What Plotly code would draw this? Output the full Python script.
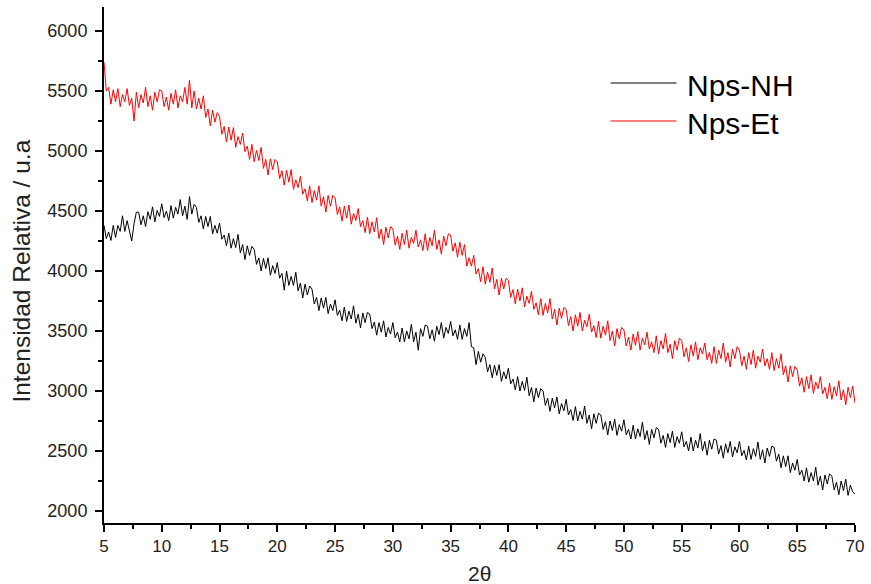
import plotly.graph_objects as go

# 2-theta grid, 0.2 degree steps from 5 to 70
two_theta = [round(5 + 0.2 * i, 1) for i in range(326)]

nps_et = [
    5740, 5500, 5530, 5390, 5510,
    5410, 5520, 5370, 5470, 5410,
    5520, 5380, 5440, 5250, 5490,
    5360, 5470, 5400, 5530, 5370,
    5460, 5340, 5490, 5410, 5510,
    5500, 5370, 5450, 5340, 5480,
    5390, 5510, 5360, 5460, 5410,
    5530, 5390, 5590, 5360, 5500,
    5350, 5440, 5350, 5460, 5280,
    5350, 5210, 5340, 5240, 5320,
    5290, 5140, 5205, 5075, 5200,
    5090, 5195, 5030, 5120, 5055,
    5150, 4995, 5040, 4930, 5055,
    4910, 5005, 4920, 5030, 4855,
    4930, 4800, 4935, 4845, 4930,
    4910, 4770, 4835, 4715, 4840,
    4740, 4845, 4680, 4760, 4695,
    4790, 4640, 4685, 4585, 4710,
    4570, 4670, 4590, 4710, 4540,
    4620, 4490, 4630, 4540, 4630,
    4610, 4470, 4535, 4415, 4540,
    4440, 4550, 4390, 4480, 4420,
    4520, 4370, 4420, 4320, 4450,
    4310, 4410, 4325, 4445, 4270,
    4350, 4220, 4365, 4275, 4370,
    4350, 4215, 4290, 4180, 4315,
    4220, 4340, 4190, 4280, 4230,
    4340, 4200, 4260, 4170, 4310,
    4170, 4280, 4210, 4340, 4180,
    4260, 4140, 4290, 4210, 4310,
    4300, 4165, 4235, 4115, 4240,
    4130, 4220, 4040, 4110, 4040,
    4130, 3975, 4020, 3910, 4035,
    3890, 3990, 3905, 4025, 3850,
    3930, 3800, 3940, 3850, 3940,
    3920, 3780, 3845, 3725, 3850,
    3750, 3860, 3700, 3790, 3730,
    3830, 3680, 3735, 3635, 3770,
    3630, 3730, 3650, 3770, 3600,
    3680, 3550, 3690, 3605, 3695,
    3680, 3545, 3620, 3500, 3635,
    3540, 3655, 3500, 3590, 3535,
    3640, 3490, 3545, 3445, 3580,
    3440, 3540, 3465, 3585, 3420,
    3500, 3375, 3520, 3435, 3530,
    3510, 3375, 3450, 3340, 3475,
    3380, 3495, 3340, 3440, 3385,
    3490, 3350, 3410, 3320, 3460,
    3310, 3420, 3350, 3480, 3320,
    3390, 3270, 3420, 3340, 3440,
    3420, 3285, 3360, 3245, 3385,
    3290, 3410, 3260, 3360, 3310,
    3400, 3260, 3320, 3230, 3370,
    3230, 3340, 3270, 3400, 3240,
    3320, 3200, 3350, 3270, 3370,
    3340, 3210, 3290, 3180, 3320,
    3220, 3340, 3190, 3290, 3240,
    3350, 3210, 3270, 3180, 3320,
    3170, 3270, 3190, 3310, 3135,
    3210, 3075, 3210, 3120, 3205,
    3180, 3040, 3110, 2990, 3120,
    3020, 3135, 2980, 3075, 3020,
    3120, 2975, 3030, 2935, 3065,
    2930, 3035, 2960, 3085, 2925,
    3010, 2885, 3030, 2945, 3040,
    2900,
]

nps_nh = [
    4380, 4270, 4325, 4255, 4380,
    4280, 4380, 4330, 4460, 4330,
    4420, 4320, 4250, 4395, 4490,
    4490, 4385, 4460, 4370, 4495,
    4430, 4535, 4410, 4505, 4455,
    4560, 4445, 4500, 4420, 4545,
    4440, 4530, 4475, 4595, 4460,
    4540, 4430, 4620, 4475, 4555,
    4530, 4405, 4460, 4350, 4455,
    4370, 4455, 4310, 4380, 4315,
    4400, 4265, 4300, 4210, 4315,
    4190, 4270, 4195, 4305, 4150,
    4220, 4095, 4210, 4130, 4205,
    4180, 4055, 4110, 4000, 4105,
    4020, 4110, 3965, 4045, 3980,
    4070, 3940, 3980, 3840, 4000,
    3880, 3955, 3880, 3990, 3835,
    3900, 3775, 3890, 3800, 3875,
    3850, 3725, 3780, 3670, 3775,
    3690, 3780, 3645, 3725, 3670,
    3760, 3630, 3675, 3585, 3700,
    3580, 3665, 3600, 3710, 3565,
    3640, 3525, 3650, 3570, 3655,
    3640, 3520, 3575, 3465, 3570,
    3490, 3585, 3450, 3530, 3475,
    3570, 3445, 3490, 3410, 3525,
    3410, 3500, 3435, 3555, 3410,
    3490, 3340, 3520, 3455, 3550,
    3540, 3435, 3510, 3415, 3540,
    3470, 3570, 3440, 3530, 3480,
    3580, 3460, 3510, 3430, 3550,
    3430, 3520, 3455, 3570, 3370,
    3360, 3220, 3330, 3240, 3310,
    3280, 3160, 3220, 3110, 3215,
    3130, 3220, 3080, 3160, 3100,
    3190, 3060, 3100, 3010, 3120,
    3000, 3080, 3005, 3115, 2960,
    3030, 2910, 3025, 2945, 3020,
    3000, 2880, 2940, 2830, 2940,
    2860, 2950, 2810, 2895, 2835,
    2930, 2800, 2845, 2755, 2870,
    2750, 2830, 2765, 2875, 2730,
    2800, 2685, 2810, 2730, 2815,
    2800, 2680, 2745, 2635, 2750,
    2670, 2765, 2630, 2720, 2665,
    2760, 2635, 2680, 2600, 2715,
    2600, 2685, 2620, 2740, 2595,
    2670, 2555, 2680, 2610, 2695,
    2680, 2565, 2630, 2530, 2645,
    2570, 2665, 2530, 2620, 2565,
    2660, 2535, 2580, 2500, 2615,
    2500, 2590, 2525, 2645, 2500,
    2580, 2465, 2590, 2515, 2600,
    2590, 2475, 2545, 2440, 2560,
    2485, 2580, 2450, 2535, 2485,
    2580, 2460, 2505, 2425, 2540,
    2430, 2520, 2455, 2575, 2430,
    2510, 2400, 2525, 2455, 2540,
    2530, 2415, 2475, 2360, 2460,
    2370, 2460, 2320, 2400, 2340,
    2430, 2300, 2340, 2250, 2360,
    2240, 2320, 2250, 2365, 2215,
    2290, 2175, 2300, 2225, 2310,
    2290, 2175, 2240, 2135, 2250,
    2170, 2265, 2130, 2215, 2160,
    2140,
]

series_names = ["Nps-NH", "Nps-Et"]
series_colors = ["#000000", "#ff0000"]
x_tick_vals = list(range(5, 71, 5))
y_tick_vals = list(range(2000, 6001, 500))

fig = go.Figure()
for name, ys, col in zip(series_names, [nps_nh, nps_et], series_colors):
    fig.add_trace(go.Scatter(x=two_theta, y=ys, mode="lines", name=name,
                             line=dict(color=col, width=1), showlegend=False))

axis_font = "Liberation Sans, Arial, sans-serif"
fig.update_layout(
    width=871, height=584,
    margin=dict(l=104, r=14, t=7, b=61),
    paper_bgcolor="white", plot_bgcolor="white",
    font=dict(family=axis_font, color="#222222"),
    xaxis=dict(range=[5, 70], tickvals=x_tick_vals, showline=True, linecolor="black",
               linewidth=2, ticks="outside", ticklen=7, tickwidth=1.5, tickcolor="black",
               showgrid=False, zeroline=False,
               tickfont=dict(size=17, family="Liberation Sans Narrow, Liberation Sans, Arial"),
               minor=dict(dtick=2.5, ticks="outside", ticklen=4, tickwidth=1.5, tickcolor="black")),
    yaxis=dict(range=[1900, 6200], tickvals=y_tick_vals, showline=True, linecolor="black",
               linewidth=2, ticks="outside", ticklen=7, tickwidth=1.5, tickcolor="black",
               showgrid=False, zeroline=False, ticklabelstandoff=4,
               tickfont=dict(size=18),
               minor=dict(dtick=250, ticks="outside", ticklen=4, tickwidth=1.5, tickcolor="black")),
)

# axis titles
fig.add_annotation(text="Intensidad Relativa / u.a", xref="paper", yref="paper",
                   x=-0.110, y=0.488, textangle=-90, showarrow=False,
                   font=dict(size=24.5, color="#222222"), xanchor="center", yanchor="middle")
fig.add_annotation(text="2θ", xref="paper", yref="paper", x=0.5, y=-0.097,
                   showarrow=False, font=dict(size=21, color="#222222"),
                   xanchor="center", yanchor="middle")

# legend drawn manually
leg_y = [0.8527, 0.7791]
for name, col, yy in zip(series_names, series_colors, leg_y):
    fig.add_shape(type="line", xref="paper", yref="paper", x0=0.6746, x1=0.7623,
                  y0=yy, y1=yy, line=dict(color=col, width=1))
    fig.add_annotation(text=name, xref="paper", yref="paper", x=0.7743, y=yy - 0.004,
                       showarrow=False, font=dict(size=30, color="black"),
                       xanchor="left", yanchor="middle")

fig.write_html("out.html")
